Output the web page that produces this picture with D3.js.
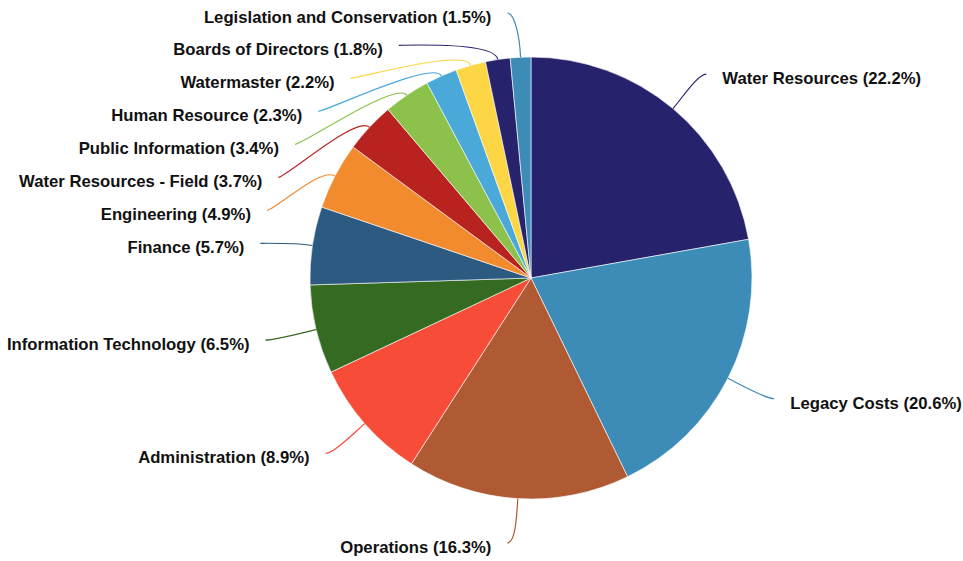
<!DOCTYPE html>
<html>
<head>
<meta charset="utf-8">
<script src="https://cdn.jsdelivr.net/npm/d3@7"></script>
<style>
  html, body { margin: 0; padding: 0; background: #ffffff; }
  svg { display: block; }
  .label { font-family: "Liberation Sans", Arial, Helvetica, sans-serif; font-weight: bold; font-size: 16.7px; fill: #111111; }
</style>
</head>
<body>
<div id="chart"></div>
<script>
// Budget share by department (percent of total), clockwise from 12 o'clock
const categories = [
  "Water Resources",
  "Legacy Costs",
  "Operations",
  "Administration",
  "Information Technology",
  "Finance",
  "Engineering",
  "Water Resources - Field",
  "Public Information",
  "Human Resource",
  "Watermaster",
  "Boards of Directors",
  "Legislation and Conservation"
];
const shares = [22.2, 20.6, 16.3, 8.9, 6.5, 5.7, 4.9, 3.7, 3.4, 2.3, 2.2, 1.8, 1.5];
const colors = [
  "#26236c", "#3d8cb8", "#b05a33", "#f74c38", "#356a21", "#2c5a80", "#f28a2e",
  "#b9231f", "#8cc24b", "#4ba9d9", "#fcd645", "#26236c", "#3d8cb8"
];

const width = 963, height = 561;
const cx = 531, cy = 278;
const radius = 221;
// labels sit on an ellipse just outside the pie
const labelRx = 273, labelRy = 266;
const labelGap = 33;          // minimum vertical distance between stacked labels
const maxLabelY = 265;        // lowest a label anchor may go (relative to centre)
const textOffset = 16;        // horizontal gap between connector end and text

const svg = d3.select("#chart").append("svg")
  .attr("width", width)
  .attr("height", height);

const g = svg.append("g").attr("transform", `translate(${cx},${cy})`);

const pie = d3.pie().sort(null).value(d => d);
const arcs = pie(shares);
const arc = d3.arc().innerRadius(0).outerRadius(radius);

g.selectAll("path.slice")
  .data(arcs)
  .join("path")
  .attr("class", "slice")
  .attr("d", arc)
  .attr("fill", (d, i) => colors[i])
  .attr("stroke", "#ffffff")
  .attr("stroke-width", 0.6);

// initial label anchors at each slice's mid-angle
const labels = arcs.map((a, i) => {
  const m = (a.startAngle + a.endAngle) / 2;
  return {
    i, m,
    side: m < Math.PI ? 1 : -1,
    x: Math.sin(m) * labelRx,
    y: -Math.cos(m) * labelRy
  };
});

// push overlapping labels downward, one side at a time
[1, -1].forEach(side => {
  const group = labels.filter(l => l.side === side).sort((a, b) => a.y - b.y);
  for (let k = 1; k < group.length; k++) {
    if (group[k].y < group[k - 1].y + labelGap) group[k].y = group[k - 1].y + labelGap;
  }
});
labels.forEach(l => {
  l.y = Math.max(-maxLabelY, Math.min(maxLabelY, l.y));
  const t = Math.min(1, Math.abs(l.y / labelRy));
  l.x = l.side * labelRx * Math.sqrt(1 - t * t);
});

// curved connectors: leave the slice radially, arrive at the label horizontally
g.selectAll("path.connector")
  .data(labels)
  .join("path")
  .attr("class", "connector")
  .attr("fill", "none")
  .attr("stroke", d => colors[d.i])
  .attr("stroke-width", 1.2)
  .attr("d", d => {
    const ux = Math.sin(d.m), uy = -Math.cos(d.m);
    const p = d3.path();
    const px = ux * radius, py = uy * radius;
    p.moveTo(px, py);
    p.bezierCurveTo(px + ux * 18, py + uy * 18, d.x - d.side * 8, d.y, d.x, d.y);
    return p.toString();
  });

g.selectAll("text.label")
  .data(labels)
  .join("text")
  .attr("class", "label")
  .attr("x", d => d.x + d.side * textOffset)
  .attr("y", d => d.y + 10)
  .attr("text-anchor", d => d.side > 0 ? "start" : "end")
  .text(d => `${categories[d.i]} (${shares[d.i].toFixed(1)}%)`);
</script>
</body>
</html>
